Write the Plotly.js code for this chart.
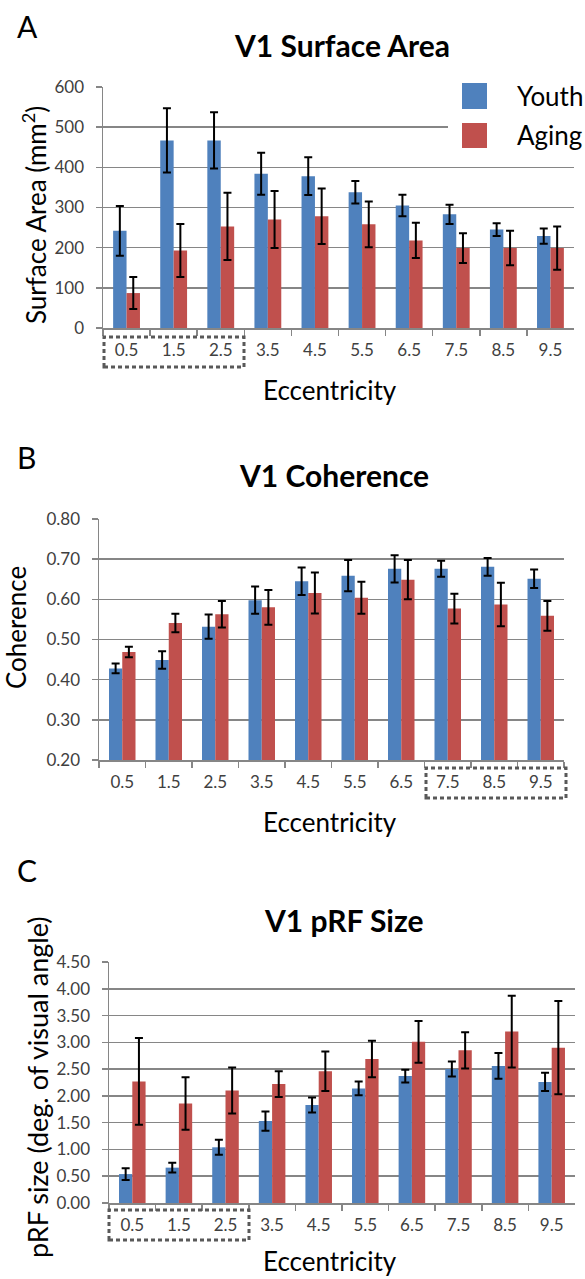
<!DOCTYPE html>
<html>
<head>
<meta charset="utf-8">
<script src="https://cdn.plot.ly/plotly-3.0.1.min.js"></script>
<style>
  html, body { margin: 0; padding: 0; background: #ffffff; }
  #chart { width: 585px; height: 1279px; }
</style>
</head>
<body>
<div id="chart"></div>
<script>
// ---- data ----
const eccentricity = ["0.5", "1.5", "2.5", "3.5", "4.5", "5.5", "6.5", "7.5", "8.5", "9.5"];
const seriesNames = ["Youth", "Aging"];

const areaYouth    = [242, 467, 467, 384, 378, 338, 305, 283, 245, 229];
const areaYouthErr = [62, 80, 70, 52, 47, 28, 27, 24, 16, 19];
const areaAging    = [87, 193, 253, 270, 278, 258, 218, 199, 199, 199];
const areaAgingErr = [40, 66, 84, 71, 69, 57, 44, 37, 43, 54];

const cohYouth    = [0.428, 0.449, 0.532, 0.598, 0.645, 0.659, 0.676, 0.676, 0.681, 0.651];
const cohYouthErr = [0.012, 0.022, 0.030, 0.034, 0.034, 0.039, 0.034, 0.020, 0.022, 0.023];
const cohAging    = [0.469, 0.541, 0.563, 0.580, 0.616, 0.604, 0.649, 0.577, 0.587, 0.559];
const cohAgingErr = [0.013, 0.023, 0.033, 0.043, 0.051, 0.040, 0.049, 0.037, 0.054, 0.037];

const prfYouth    = [0.54, 0.66, 1.04, 1.53, 1.83, 2.14, 2.37, 2.50, 2.56, 2.26];
const prfYouthErr = [0.11, 0.09, 0.14, 0.18, 0.14, 0.13, 0.12, 0.14, 0.24, 0.17];
const prfAging    = [2.27, 1.86, 2.10, 2.22, 2.46, 2.69, 3.01, 2.85, 3.20, 2.90];
const prfAgingErr = [0.81, 0.49, 0.43, 0.24, 0.37, 0.34, 0.39, 0.34, 0.67, 0.87];

const panelTitles = ["V1 Surface Area", "V1 Coherence", "V1 pRF Size"];
const yTitles = ["Surface Area (mm<sup>2</sup>)", "Coherence", "pRF size (deg. of visual angle)"];
const xTitle = "Eccentricity";
const panelLetters = ["A", "B", "C"];

// ---- styling ----
const W = 585, H = 1279;
const FONT = "Lato, 'Open Sans', sans-serif";
const BLUE = "#4F81BD", RED = "#C0504D";
const GRID = "#868686", TICKC = "#404040";
const px = x => x / W;
const py = y => 1 - y / H;

function barTrace(vals, errs, color, name, xa, ya) {
  return {
    type: "bar", x: eccentricity, y: vals, name: name,
    xaxis: xa, yaxis: ya, showlegend: false,
    marker: { color: color, line: { width: 0 } },
    error_y: { type: "data", array: errs, visible: true, color: "#000000", thickness: 2, width: 4 },
    hoverinfo: "skip"
  };
}

const data = [
  barTrace(areaYouth, areaYouthErr, BLUE, seriesNames[0], "x", "y"),
  barTrace(areaAging, areaAgingErr, RED, seriesNames[1], "x", "y"),
  barTrace(cohYouth, cohYouthErr, BLUE, seriesNames[0], "x2", "y2"),
  barTrace(cohAging, cohAgingErr, RED, seriesNames[1], "x2", "y2"),
  barTrace(prfYouth, prfYouthErr, BLUE, seriesNames[0], "x3", "y3"),
  barTrace(prfAging, prfAgingErr, RED, seriesNames[1], "x3", "y3")
];

function xAxis(domainPx, anchor) {
  return {
    type: "category", anchor: anchor,
    domain: [px(domainPx[0]), px(domainPx[1])],
    showline: true, linecolor: GRID, linewidth: 1.5,
    ticks: "outside", tickson: "boundaries", ticklen: 6, tickcolor: GRID, tickwidth: 1.5,
    showgrid: false, zeroline: false,
    tickfont: { family: FONT, size: 17, color: TICKC },
    ticklabelstandoff: 6,
    fixedrange: true
  };
}
function yAxis(domainPx, anchor, range, dtick, fmt) {
  return {
    anchor: anchor,
    domain: [py(domainPx[1]), py(domainPx[0])],
    range: range, tick0: range[0], dtick: dtick, tickformat: fmt,
    showline: true, linecolor: GRID, linewidth: 1.5,
    ticks: "outside", ticklen: 6, tickcolor: GRID, tickwidth: 1.5,
    showgrid: true, gridcolor: GRID, gridwidth: 1.5, zeroline: false,
    tickfont: { family: FONT, size: 17, color: TICKC },
    ticklabelstandoff: 8,
    fixedrange: true
  };
}

const annotations = [];
function addText(text, x, y, size, opts) {
  annotations.push(Object.assign({
    text: text, xref: "paper", yref: "paper", x: px(x), y: py(y),
    xanchor: "center", yanchor: "middle", showarrow: false,
    font: { family: FONT, size: size, color: "#000000" }
  }, opts || {}));
}

// panel A
addText(panelLetters[0], 15, 26, 30, { xanchor: "left" });
addText("<b>" + panelTitles[0] + "</b>", 342, 45, 30);
addText(yTitles[0], 35, 215, 26, { textangle: -90 });
addText(xTitle, 330, 390, 26);
// panel B
addText(panelLetters[1], 15, 457, 30, { xanchor: "left" });
addText("<b>" + panelTitles[1] + "</b>", 334, 475, 30);
addText(yTitles[1], 16, 628, 26, { textangle: -90 });
addText(xTitle, 330, 822, 26);
// panel C
addText(panelLetters[2], 15, 870, 30, { xanchor: "left" });
addText("<b>" + panelTitles[2] + "</b>", 344, 920, 30);
addText(yTitles[2], 37, 1088, 27, { textangle: -90 });
addText(xTitle, 330, 1261, 26);
// legend texts
addText(seriesNames[0], 515, 96, 26, { xanchor: "left" });
addText(seriesNames[1], 515, 135, 26, { xanchor: "left" });

function rectPx(x0, y0, x1, y1, extra) {
  return Object.assign({
    type: "rect", xref: "paper", yref: "paper",
    x0: px(x0), x1: px(x1), y0: py(y1), y1: py(y0)
  }, extra);
}
const dotted = { line: { color: "#595959", width: 3, dash: "4px,3px" }, fillcolor: "rgba(0,0,0,0)", layer: "above" };
const shapes = [
  // legend area (covers the gridlines as in the original)
  rectPx(448, 74, 585, 156, { line: { width: 0 }, fillcolor: "#ffffff", layer: "above" }),
  rectPx(462, 83, 487, 109, { line: { width: 0 }, fillcolor: BLUE, layer: "above" }),
  rectPx(462, 123, 487, 148, { line: { width: 0 }, fillcolor: RED, layer: "above" }),
  // dotted highlight boxes around tick labels
  rectPx(104, 337, 244, 367, dotted),
  rectPx(426, 768, 566, 798, dotted),
  rectPx(109, 1210, 249, 1240, dotted)
];

const layout = {
  width: W, height: H,
  margin: { l: 0, r: 0, t: 0, b: 0 },
  paper_bgcolor: "#ffffff", plot_bgcolor: "#ffffff",
  barmode: "group", bargap: 0.43, bargroupgap: 0,
  showlegend: false,
  font: { family: FONT },
  xaxis:  xAxis([103, 574], "y"),
  yaxis:  yAxis([87, 328], "x", [0, 600], 100, "d"),
  xaxis2: xAxis([99, 564], "y2"),
  yaxis2: yAxis([519, 760], "x2", [0.2, 0.8], 0.1, ".2f"),
  xaxis3: xAxis([109, 575], "y3"),
  yaxis3: yAxis([962, 1203], "x3", [0, 4.5], 0.5, ".2f"),
  annotations: annotations,
  shapes: shapes
};

Plotly.newPlot("chart", data, layout, { staticPlot: true, displayModeBar: false });
</script>
</body>
</html>
